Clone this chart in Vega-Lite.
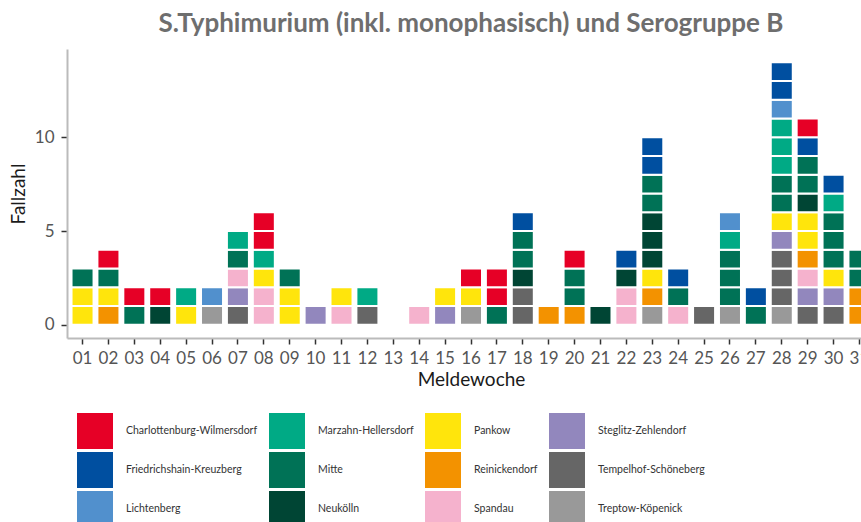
{
  "$schema": "https://vega.github.io/schema/vega-lite/v6.json",
  "width": 808,
  "height": 289,
  "padding": {"left": 9, "top": 11, "right": 0, "bottom": 0},
  "background": "white",
  "config": {
    "font": "Lato",
    "view": {"stroke": null}
  },
  "title": {
    "text": "S.Typhimurium (inkl. monophasisch) und Serogruppe B",
    "fontSize": 26,
    "fontWeight": "bold",
    "color": "#6e6e6e",
    "anchor": "middle",
    "offset": 12
  },
  "data": {
    "values": [
      {"woche": "01", "bezirk": "Pankow", "fall": 1}, {"woche": "01", "bezirk": "Pankow", "fall": 1}, {"woche": "01", "bezirk": "Mitte", "fall": 1},
      {"woche": "02", "bezirk": "Reinickendorf", "fall": 1}, {"woche": "02", "bezirk": "Pankow", "fall": 1}, {"woche": "02", "bezirk": "Mitte", "fall": 1}, {"woche": "02", "bezirk": "Charlottenburg-Wilmersdorf", "fall": 1},
      {"woche": "03", "bezirk": "Mitte", "fall": 1}, {"woche": "03", "bezirk": "Charlottenburg-Wilmersdorf", "fall": 1},
      {"woche": "04", "bezirk": "Neukölln", "fall": 1}, {"woche": "04", "bezirk": "Charlottenburg-Wilmersdorf", "fall": 1},
      {"woche": "05", "bezirk": "Pankow", "fall": 1}, {"woche": "05", "bezirk": "Marzahn-Hellersdorf", "fall": 1},
      {"woche": "06", "bezirk": "Treptow-Köpenick", "fall": 1}, {"woche": "06", "bezirk": "Lichtenberg", "fall": 1},
      {"woche": "07", "bezirk": "Tempelhof-Schöneberg", "fall": 1}, {"woche": "07", "bezirk": "Steglitz-Zehlendorf", "fall": 1}, {"woche": "07", "bezirk": "Spandau", "fall": 1}, {"woche": "07", "bezirk": "Mitte", "fall": 1}, {"woche": "07", "bezirk": "Marzahn-Hellersdorf", "fall": 1},
      {"woche": "08", "bezirk": "Spandau", "fall": 1}, {"woche": "08", "bezirk": "Spandau", "fall": 1}, {"woche": "08", "bezirk": "Pankow", "fall": 1}, {"woche": "08", "bezirk": "Marzahn-Hellersdorf", "fall": 1}, {"woche": "08", "bezirk": "Charlottenburg-Wilmersdorf", "fall": 1}, {"woche": "08", "bezirk": "Charlottenburg-Wilmersdorf", "fall": 1},
      {"woche": "09", "bezirk": "Pankow", "fall": 1}, {"woche": "09", "bezirk": "Pankow", "fall": 1}, {"woche": "09", "bezirk": "Mitte", "fall": 1},
      {"woche": "10", "bezirk": "Steglitz-Zehlendorf", "fall": 1},
      {"woche": "11", "bezirk": "Spandau", "fall": 1}, {"woche": "11", "bezirk": "Pankow", "fall": 1},
      {"woche": "12", "bezirk": "Tempelhof-Schöneberg", "fall": 1}, {"woche": "12", "bezirk": "Marzahn-Hellersdorf", "fall": 1},
      {"woche": "14", "bezirk": "Spandau", "fall": 1},
      {"woche": "15", "bezirk": "Steglitz-Zehlendorf", "fall": 1}, {"woche": "15", "bezirk": "Pankow", "fall": 1},
      {"woche": "16", "bezirk": "Treptow-Köpenick", "fall": 1}, {"woche": "16", "bezirk": "Pankow", "fall": 1}, {"woche": "16", "bezirk": "Charlottenburg-Wilmersdorf", "fall": 1},
      {"woche": "17", "bezirk": "Mitte", "fall": 1}, {"woche": "17", "bezirk": "Charlottenburg-Wilmersdorf", "fall": 1}, {"woche": "17", "bezirk": "Charlottenburg-Wilmersdorf", "fall": 1},
      {"woche": "18", "bezirk": "Tempelhof-Schöneberg", "fall": 1}, {"woche": "18", "bezirk": "Tempelhof-Schöneberg", "fall": 1}, {"woche": "18", "bezirk": "Neukölln", "fall": 1}, {"woche": "18", "bezirk": "Mitte", "fall": 1}, {"woche": "18", "bezirk": "Mitte", "fall": 1}, {"woche": "18", "bezirk": "Friedrichshain-Kreuzberg", "fall": 1},
      {"woche": "19", "bezirk": "Reinickendorf", "fall": 1},
      {"woche": "20", "bezirk": "Reinickendorf", "fall": 1}, {"woche": "20", "bezirk": "Mitte", "fall": 1}, {"woche": "20", "bezirk": "Mitte", "fall": 1}, {"woche": "20", "bezirk": "Charlottenburg-Wilmersdorf", "fall": 1},
      {"woche": "21", "bezirk": "Neukölln", "fall": 1},
      {"woche": "22", "bezirk": "Spandau", "fall": 1}, {"woche": "22", "bezirk": "Spandau", "fall": 1}, {"woche": "22", "bezirk": "Neukölln", "fall": 1}, {"woche": "22", "bezirk": "Friedrichshain-Kreuzberg", "fall": 1},
      {"woche": "23", "bezirk": "Treptow-Köpenick", "fall": 1}, {"woche": "23", "bezirk": "Reinickendorf", "fall": 1}, {"woche": "23", "bezirk": "Pankow", "fall": 1}, {"woche": "23", "bezirk": "Neukölln", "fall": 1}, {"woche": "23", "bezirk": "Neukölln", "fall": 1}, {"woche": "23", "bezirk": "Neukölln", "fall": 1}, {"woche": "23", "bezirk": "Mitte", "fall": 1}, {"woche": "23", "bezirk": "Mitte", "fall": 1}, {"woche": "23", "bezirk": "Friedrichshain-Kreuzberg", "fall": 1}, {"woche": "23", "bezirk": "Friedrichshain-Kreuzberg", "fall": 1},
      {"woche": "24", "bezirk": "Spandau", "fall": 1}, {"woche": "24", "bezirk": "Mitte", "fall": 1}, {"woche": "24", "bezirk": "Friedrichshain-Kreuzberg", "fall": 1},
      {"woche": "25", "bezirk": "Tempelhof-Schöneberg", "fall": 1},
      {"woche": "26", "bezirk": "Treptow-Köpenick", "fall": 1}, {"woche": "26", "bezirk": "Mitte", "fall": 1}, {"woche": "26", "bezirk": "Mitte", "fall": 1}, {"woche": "26", "bezirk": "Mitte", "fall": 1}, {"woche": "26", "bezirk": "Marzahn-Hellersdorf", "fall": 1}, {"woche": "26", "bezirk": "Lichtenberg", "fall": 1},
      {"woche": "27", "bezirk": "Mitte", "fall": 1}, {"woche": "27", "bezirk": "Friedrichshain-Kreuzberg", "fall": 1},
      {"woche": "28", "bezirk": "Treptow-Köpenick", "fall": 1}, {"woche": "28", "bezirk": "Tempelhof-Schöneberg", "fall": 1}, {"woche": "28", "bezirk": "Tempelhof-Schöneberg", "fall": 1}, {"woche": "28", "bezirk": "Tempelhof-Schöneberg", "fall": 1}, {"woche": "28", "bezirk": "Steglitz-Zehlendorf", "fall": 1}, {"woche": "28", "bezirk": "Pankow", "fall": 1}, {"woche": "28", "bezirk": "Mitte", "fall": 1}, {"woche": "28", "bezirk": "Mitte", "fall": 1}, {"woche": "28", "bezirk": "Marzahn-Hellersdorf", "fall": 1}, {"woche": "28", "bezirk": "Marzahn-Hellersdorf", "fall": 1}, {"woche": "28", "bezirk": "Marzahn-Hellersdorf", "fall": 1}, {"woche": "28", "bezirk": "Lichtenberg", "fall": 1}, {"woche": "28", "bezirk": "Friedrichshain-Kreuzberg", "fall": 1}, {"woche": "28", "bezirk": "Friedrichshain-Kreuzberg", "fall": 1},
      {"woche": "29", "bezirk": "Tempelhof-Schöneberg", "fall": 1}, {"woche": "29", "bezirk": "Steglitz-Zehlendorf", "fall": 1}, {"woche": "29", "bezirk": "Spandau", "fall": 1}, {"woche": "29", "bezirk": "Reinickendorf", "fall": 1}, {"woche": "29", "bezirk": "Pankow", "fall": 1}, {"woche": "29", "bezirk": "Pankow", "fall": 1}, {"woche": "29", "bezirk": "Neukölln", "fall": 1}, {"woche": "29", "bezirk": "Mitte", "fall": 1}, {"woche": "29", "bezirk": "Mitte", "fall": 1}, {"woche": "29", "bezirk": "Friedrichshain-Kreuzberg", "fall": 1}, {"woche": "29", "bezirk": "Charlottenburg-Wilmersdorf", "fall": 1},
      {"woche": "30", "bezirk": "Tempelhof-Schöneberg", "fall": 1}, {"woche": "30", "bezirk": "Steglitz-Zehlendorf", "fall": 1}, {"woche": "30", "bezirk": "Pankow", "fall": 1}, {"woche": "30", "bezirk": "Mitte", "fall": 1}, {"woche": "30", "bezirk": "Mitte", "fall": 1}, {"woche": "30", "bezirk": "Mitte", "fall": 1}, {"woche": "30", "bezirk": "Marzahn-Hellersdorf", "fall": 1}, {"woche": "30", "bezirk": "Friedrichshain-Kreuzberg", "fall": 1},
      {"woche": "31", "bezirk": "Reinickendorf", "fall": 1}, {"woche": "31", "bezirk": "Reinickendorf", "fall": 1}, {"woche": "31", "bezirk": "Mitte", "fall": 1}, {"woche": "31", "bezirk": "Mitte", "fall": 1}
    ]
  },
  "mark": {"type": "bar", "stroke": "white", "strokeWidth": 2},
  "encoding": {
    "x": {
      "field": "woche",
      "type": "ordinal",
      "scale": {
        "domain": ["01","02","03","04","05","06","07","08","09","10","11","12","13","14","15","16","17","18","19","20","21","22","23","24","25","26","27","28","29","30","31"],
        "paddingInner": 0.15,
        "paddingOuter": 0.175
      },
      "axis": {
        "title": "Meldewoche",
        "titleFontSize": 19,
        "titleFontWeight": "normal",
        "titleColor": "#1a1a1a",
        "titlePadding": 4,
        "labelAngle": 0,
        "labelFontSize": 17,
        "labelColor": "#555555",
        "labelPadding": 6,
        "domainColor": "#bbbbbb",
        "domainWidth": 2,
        "tickColor": "#333333",
        "tickSize": 6,
        "tickWidth": 1.5
      }
    },
    "y": {
      "field": "fall",
      "type": "quantitative",
      "stack": "zero",
      "scale": {"domain": [-0.7, 14.7], "nice": false, "zero": false},
      "axis": {
        "title": "Fallzahl",
        "titleFontSize": 19,
        "titleFontWeight": "normal",
        "titleColor": "#1a1a1a",
        "titlePadding": 6,
        "values": [0, 5, 10],
        "grid": false,
        "labelFontSize": 17,
        "labelColor": "#555555",
        "labelPadding": 7,
        "domainColor": "#bbbbbb",
        "domainWidth": 2,
        "tickColor": "#333333",
        "tickSize": 6,
        "tickWidth": 1.5
      }
    },
    "color": {
      "field": "bezirk",
      "type": "nominal",
      "scale": {
        "domain": ["Charlottenburg-Wilmersdorf", "Marzahn-Hellersdorf", "Pankow", "Steglitz-Zehlendorf", "Friedrichshain-Kreuzberg", "Mitte", "Reinickendorf", "Tempelhof-Schöneberg", "Lichtenberg", "Neukölln", "Spandau", "Treptow-Köpenick"],
        "range": ["#E60026", "#00AA85", "#FFE50C", "#9287BD", "#004FA0", "#007256", "#F39200", "#666666", "#5190CD", "#004534", "#F5B2CD", "#999999"]
      },
      "legend": {
        "title": null,
        "orient": "none",
        "legendX": 10,
        "legendY": 364,
        "direction": "horizontal",
        "columns": 4,
        "symbolType": "square",
        "symbolSize": 1296,
        "symbolStrokeWidth": 0,
        "symbolOpacity": 1,
        "labelFontSize": 10.5,
        "labelColor": "#333333",
        "labelOffset": 13,
        "columnPadding": 11,
        "rowPadding": 3,
        "labelLimit": 300
      }
    },
    "order": {"field": "bezirk", "sort": "descending"}
  }
}
